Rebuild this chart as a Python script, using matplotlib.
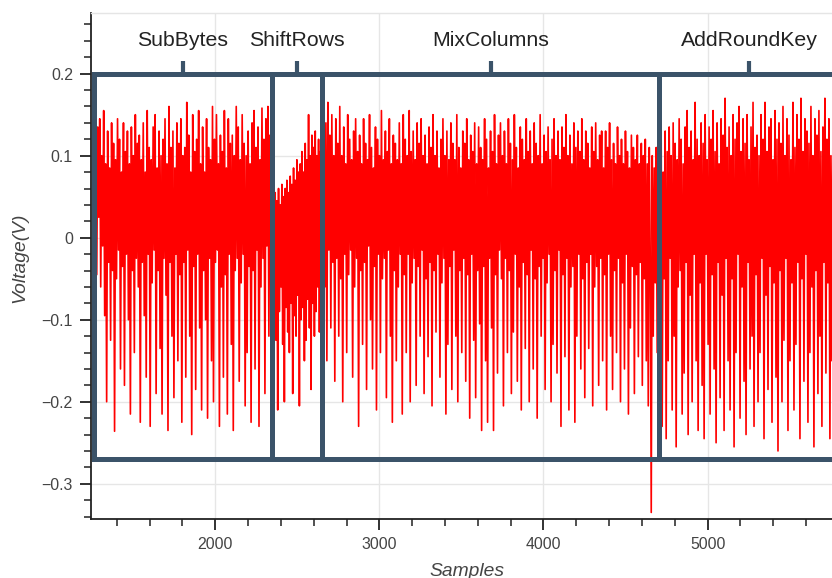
import numpy as np
import matplotlib.pyplot as plt
import matplotlib.ticker as mticker
from matplotlib.patches import Rectangle

plt.rcParams["font.family"] = ["Liberation Sans", "DejaVu Sans"]

# AES round phases and where they start/end (sample index)
phase_names = ["SubBytes", "ShiftRows", "MixColumns", "AddRoundKey"]
phase_edges = [1260, 2345, 2650, 4705, 5800]
box_bottom, box_top = -0.27, 0.2

# power trace, millivolts, one list per phase
sub_bytes_mv = [
    150, -20, 120, -45, 135, 25, 145, -60, 100, -10, 155, -95, 90, -200, 130, -30, 85, -125, 140, -40,
    115, -236, 95, -50, 145, -15, 120, -160, 80, -35, 140, -180, 105, -20, 130, -100, 90, -215, 135, -40,
    100, -140, 150, -25, 115, -60, 125, -225, 95, -30, 140, -95, 80, -170, 155, -20, 110, -230, 95, -55,
    135, -15, 150, -190, 85, -40, 130, -135, 100, -215, 120, -25, 145, -70, 90, -235, 160, -30, 110, -120,
    130, -195, 85, -20, 140, -150, 115, -45, 145, -225, 100, -30, 110, -170, 165, -15, 125, -120, 80, -240,
    150, -35, 105, -185, 120, -20, 155, -110, 90, -210, 135, -40, 80, -100, 145, -220, 110, -25, 95, -150,
    160, -200, 120, -30, 150, -15, 90, -230, 125, -60, 105, -170, 155, -45, 85, -215, 145, -20, 115, -130,
    125, -235, 100, -40, 160, -25, 135, -175, 95, -55, 150, -20, 115, -205, 100, -140, 130, -35, 90, -225,
    140, -40, 155, -160, 110, -15, 135, -230, 95, -60, 158, -25, 120, -190, 145, -10, 160, -120, 125, -30,
]
shift_rows_mv = [
    50, -110, 35, -70, 55, -125, 45, -210, 60, -90, 40, -60, 65, -130, 50, -200, 60, -85, 70, -115,
    55, -140, 75, -80, 65, -190, 85, -95, 70, -120, 95, -70, 80, -205, 90, -100, 105, -85, 80, -150,
    115, -125, 95, -75, 150, -110, 100, -185, 125, -80, 110, -120, 130, -90, 100, -60, 120, -115, 105, -50,
]
mix_columns_mv = [
    110, -20, 180, -60, 140, -150, 165, -15, 125, -110, 150, -30, 100, -175, 145, -25, 115, -120, 160, -50,
    100, -200, 135, -20, 90, -140, 150, -45, 120, -15, 95, -170, 130, -60, 145, -25, 105, -230, 125, -40,
    90, -130, 145, -30, 115, -185, 95, -10, 150, -100, 110, -160, 85, -35, 135, -210, 120, -20, 100, -140,
    155, -50, 95, -25, 130, -195, 105, -15, 145, -120, 90, -225, 125, -40, 115, -150, 95, -60, 140, -20,
    90, -215, 150, -45, 120, -140, 100, -20, 155, -200, 105, -55, 130, -25, 95, -180, 140, -35, 115, -120,
    145, -15, 100, -190, 125, -50, 90, -145, 135, -30, 110, -205, 150, -40, 100, -115, 130, -20, 85, -170,
    120, -55, 145, -25, 100, -215, 130, -130, 95, -35, 140, -185, 115, -15, 95, -120, 150, -200, 110, -40,
    85, -140, 130, -25, 115, -175, 145, -45, 95, -220, 125, -20, 105, -125, 140, -195, 90, -40, 135, -105,
    110, -235, 95, -35, 145, -150, 120, -225, 85, -25, 130, -110, 105, -235, 150, -45, 90, -165, 125, -15,
    140, -50, 100, -205, 130, -25, 90, -140, 145, -40, 115, -190, 95, -115, 150, -20, 110, -175, 85, -60,
    135, -210, 120, -30, 95, -135, 145, -45, 105, -200, 130, -15, 90, -160, 140, -50, 115, -220, 100, -35,
    150, -120, 90, -25, 125, -185, 105, -55, 135, -20, 95, -200, 120, -130, 145, -40, 100, -165, 130, -15,
    95, -230, 135, -45, 110, -145, 150, -25, 100, -210, 125, -60, 90, -35, 140, -225, 110, -120, 130, -20,
    105, -160, 145, -50, 95, -195, 130, -30, 115, -135, 85, -20, 135, -205, 105, -60, 140, -35, 95, -180,
    125, -25, 130, -150, 85, -45, 130, -210, 110, -20, 140, -120, 95, -185, 115, -40, 90, -140, 135, -25,
    100, -200, 120, -55, 90, -160, 130, -20, 105, -215, 85, -110, 125, -35, 110, -190, 95, -45, 125, -145,
    90, -30, 115, -180, 100, -50, 120, -150, 90, -205, 110, -25, -335, 100, -120, 85, -55, 110, -140, 95,
]
add_round_key_mv = [
    90, -180, 120, -230, 80, -50, 130, -245, 105, -150, 135, -25, 100, -210, 140, -120, 115, -255, 95, -60,
    145, -40, 120, -215, 90, -165, 135, -30, 155, -240, 110, -70, 130, -200, 95, -20, 165, -150, 120, -235,
    100, -55, 140, -180, 115, -245, 150, -20, 95, -130, 135, -215, 120, -45, 155, -160, 105, -250, 140, -30,
    90, -195, 145, -70, 125, -235, 170, -25, 110, -150, 135, -210, 100, -50, 150, -255, 120, -140, 140, -20,
    160, -220, 105, -60, 145, -175, 115, -240, 150, -30, 95, -160, 135, -120, 165, -230, 110, -45, 125, -200,
    100, -140, 150, -25, 120, -245, 165, -70, 105, -185, 135, -35, 145, -225, 95, -55, 155, -170, 120, -260,
    140, -40, 115, -200, 160, -125, 100, -25, 145, -235, 125, -150, 95, -55, 165, -210, 110, -130, 150, -30,
    120, -245, 170, -50, 105, -175, 145, -20, 130, -225, 115, -140, 160, -60, 100, -255, 145, -40, 125, -190,
    155, -120, 105, -230, 135, -30, 170, -165, 120, -55, 145, -245, 100, -150, 130, -20, 165, -210, 115, -135,
]
phase_traces = [sub_bytes_mv, shift_rows_mv, mix_columns_mv, add_round_key_mv]

samples, volts = [], []
for i, tr in enumerate(phase_traces):
    samples.append(np.linspace(phase_edges[i], phase_edges[i + 1], len(tr), endpoint=False))
    volts.append(np.array(tr) / 1000.0)
samples = np.concatenate(samples)
volts = np.concatenate(volts)

box_color = "#3b5369"

fig = plt.figure(figsize=(8.32, 5.78), dpi=100)
ax = fig.add_axes([91 / 832, 59 / 578, 741 / 832, 506 / 578])

ax.plot(samples, volts, color="#ff0000", lw=1.2, zorder=2)

for i, name in enumerate(phase_names):
    x0, x1 = phase_edges[i], phase_edges[i + 1]
    ax.add_patch(Rectangle((x0, box_bottom), x1 - x0, box_top - box_bottom, fill=False,
                           ec=box_color, lw=3.6, joinstyle="miter", zorder=3))
    mid = (x0 + x1) / 2
    ax.plot([mid, mid], [box_top, box_top + 0.016], color=box_color, lw=3,
            solid_capstyle="butt", zorder=3)
    ax.text(mid, 0.241, name, ha="center", va="center", fontsize=15.3, color="#222222")

ax.set_xlim(1243, 5758)
ax.set_ylim(-0.343, 0.274)
ax.xaxis.set_major_locator(mticker.MultipleLocator(1000))
ax.xaxis.set_minor_locator(mticker.MultipleLocator(200))
ax.yaxis.set_major_locator(mticker.MultipleLocator(0.1))
ax.yaxis.set_minor_locator(mticker.MultipleLocator(0.02))
ax.yaxis.set_major_formatter(mticker.FuncFormatter(
    lambda v, p: "0" if abs(v) < 1e-9 else f"{v:.1f}".replace("-", "\u2212")))

ax.grid(which="major", color="#e6e6e6", lw=1)
ax.set_axisbelow(True)
ax.tick_params(which="major", direction="out", length=8, width=1.3, color="#222222",
               labelsize=11.4, labelcolor="#444444", pad=5)
ax.tick_params(which="minor", direction="out", length=5, width=1.1, color="#222222")

ax.spines["right"].set_visible(False)
ax.spines["top"].set_color("#e5e5e5")
ax.spines["top"].set_linewidth(1)
for s in ["left", "bottom"]:
    ax.spines[s].set_color("#222222")
    ax.spines[s].set_linewidth(1.3)

fig.text(20 / 832, 1 - 258 / 578, "Voltage(V)", rotation=90, ha="center", va="center",
         fontsize=13.9, style="italic", color="#444444")
fig.text(467 / 832, 1 - 571 / 578, "Samples", ha="center", va="center",
         fontsize=13.9, style="italic", color="#444444")

fig.savefig("out.png", dpi=100)
